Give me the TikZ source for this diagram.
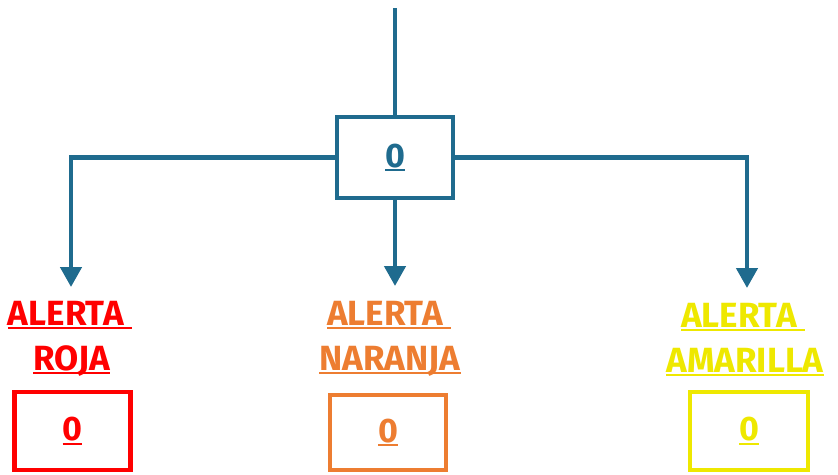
\documentclass[tikz,border=0pt]{standalone}
\usepackage{fontspec}
\setmainfont{Fira Sans}
\usetikzlibrary{arrows.meta}
\definecolor{cblue}{HTML}{1F6B8E}
\definecolor{cred}{HTML}{FF0000}
\definecolor{corange}{HTML}{ED7D31}
\definecolor{cyellow}{HTML}{EEE800}
\newcommand\ulin[1]{\setbox0=\hbox{#1}\rlap{\rule[-4pt]{\wd0}{2pt}}\box0}
\begin{document}
\begin{tikzpicture}[x=1pt,y=-1pt,
  conn/.style={draw=cblue, line width=4.5pt},
  arr/.style={conn, -{Triangle[width=21pt,length=20pt]}},
  lbl/.style={inner sep=0pt, anchor=base, font=\fontsize{35}{40}\selectfont\bfseries},
  valbox/.style={draw, line width=4.5pt, minimum width=116pt, minimum height=78pt, inner sep=0pt,
    font=\fontsize{34}{38}\selectfont\bfseries}
]
\useasboundingbox (0,0) rectangle (838,474);
% top
\coordinate (top) at (395,8);
\node[valbox, draw=cblue, text=cblue, minimum height=81pt] (main) at (395,157.5) {\ulin{0}};
\draw[conn] (top) -- (main.north);
% arrow ends
\coordinate (lt) at (71,287);
\coordinate (mt) at (395,286);
\coordinate (rt) at (747,288);
\draw[arr] (main.west) -| (lt);
\draw[arr] (main.south) -- (mt);
\draw[arr] (main.east) -| (rt);
% labels
\node[lbl, text=cred] (r1) at (70,325) {\ulin{ALERTA\ }};
\node[lbl, text=cred] (r2) at (71.5,370) {\ulin{ROJA}};
\node[lbl, text=corange] (o1) at (389,325) {\ulin{ALERTA\ }};
\node[lbl, text=corange] (o2) at (390,370) {\ulin{NARANJA}};
\node[lbl, text=cyellow] (y1) at (743,327) {\ulin{ALERTA\ }};
\node[lbl, text=cyellow] (y2) at (745,372) {\ulin{AMARILLA}};
% value boxes
\node[valbox, draw=cred, text=cred] (rb) at (72.5,431) {\ulin{0}};
\node[valbox, draw=corange, text=corange, minimum height=75pt] (ob) at (388,432.5) {\ulin{0}};
\node[valbox, draw=cyellow, text=cyellow, minimum width=118pt] (yb) at (749,431) {\ulin{0}};
\end{tikzpicture}
\end{document}
